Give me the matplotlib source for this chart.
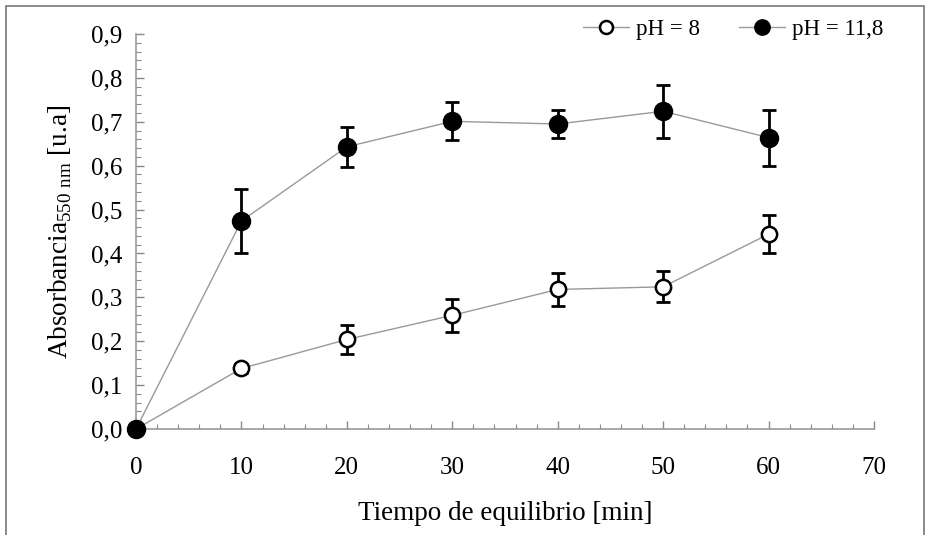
import matplotlib
matplotlib.use("Agg")
import matplotlib.pyplot as plt
import matplotlib.patches as ptc
from matplotlib.ticker import MultipleLocator, FuncFormatter

plt.rcParams['font.family'] = ['Liberation Serif', 'DejaVu Serif']
plt.rcParams['mathtext.fontset'] = 'custom'
plt.rcParams['mathtext.rm'] = 'Liberation Serif'

# data
tiempo = [0, 10, 20, 30, 40, 50, 60]
abs_ph8 = [0.0, 0.138, 0.204, 0.259, 0.318, 0.324, 0.444]
err_ph8 = [0.0, 0.010, 0.032, 0.037, 0.038, 0.035, 0.043]
abs_ph118 = [0.0, 0.474, 0.643, 0.701, 0.695, 0.724, 0.664]
err_ph118 = [0.0, 0.072, 0.045, 0.043, 0.031, 0.060, 0.064]

fig = plt.figure(figsize=(9.29, 5.35), dpi=100)
ax = fig.add_axes([0.1464, 0.1981, 0.7944, 0.7383])

# frame around the whole picture
fig.patches.append(ptc.Rectangle((0.006, -0.01), 0.989, 0.998, transform=fig.transFigure,
                                 fill=False, edgecolor='#777777', linewidth=1.2))

ax.errorbar(tiempo, abs_ph8, yerr=err_ph8, fmt='none', ecolor='black', elinewidth=2,
            capsize=5, capthick=2, zorder=2)
ax.errorbar(tiempo, abs_ph118, yerr=err_ph118, fmt='none', ecolor='black', elinewidth=2,
            capsize=5, capthick=2, zorder=2)
ax.plot(tiempo, abs_ph8, color='#999999', linewidth=1.0, marker='o', markersize=11,
        markerfacecolor='white', markeredgecolor='black', markeredgewidth=1.8,
        label='pH = 8', zorder=3)
ax.plot(tiempo, abs_ph118, color='#999999', linewidth=1.0, marker='o', markersize=13,
        markerfacecolor='black', markeredgecolor='black',
        label='pH = 11,8', zorder=4)

ax.set_xlim(0, 70)
ax.set_ylim(0, 0.9)
for s in ['top', 'right']:
    ax.spines[s].set_visible(False)
for s in ['left', 'bottom']:
    ax.spines[s].set_color('#999999')
    ax.spines[s].set_linewidth(1.2)

ax.xaxis.set_major_locator(MultipleLocator(10))
ax.xaxis.set_minor_locator(MultipleLocator(2))
ax.yaxis.set_major_locator(MultipleLocator(0.1))
ax.yaxis.set_minor_locator(MultipleLocator(0.02))
ax.yaxis.set_major_formatter(FuncFormatter(lambda v, p: ('%.1f' % v).replace('.', ',')))
ax.tick_params(which='both', direction='in', color='#888888', labelsize=18)
ax.tick_params(which='major', length=6, width=1)
ax.tick_params(which='minor', length=3.5, width=0.8)
ax.tick_params(axis='x', pad=20)
ax.tick_params(axis='y', pad=10)
for ln in ax.lines:
    ln.set_clip_on(False)

ax.set_xlabel('Tiempo de equilibrio [min]', fontsize=19.5, labelpad=16)
ax.set_ylabel(r'Absorbancia$_{\mathregular{550\ nm}}$ [u.a]', fontsize=19.5, labelpad=12)

leg = ax.legend(loc='upper right', bbox_to_anchor=(1.04, 1.09), ncol=2, frameon=False,
                fontsize=16.5, handlelength=2.0, handletextpad=0.3, columnspacing=1.7,
                markerscale=0.85)

fig.savefig('out.png', dpi=100)
